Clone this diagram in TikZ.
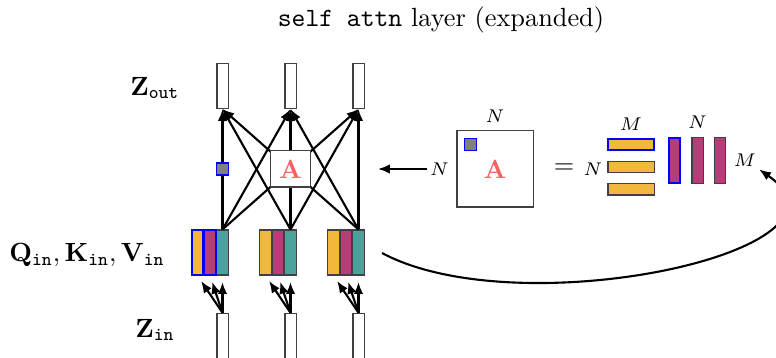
\documentclass[tikz,border=0pt]{standalone}
\usepackage{amsmath,amssymb}
\usepackage{xcolor}
\usetikzlibrary{arrows.meta,positioning,calc}
\definecolor{qorange}{HTML}{F0B83C}
\definecolor{kpurple}{HTML}{B83B7A}
\definecolor{vteal}{HTML}{4AA39A}
\definecolor{ared}{HTML}{F56262}

\begin{document}
\begin{tikzpicture}[x=0.38pt,y=-0.38pt,
  tok/.style={rectangle,draw=black!75,fill=white,inner sep=0pt,minimum width=4.2pt,minimum height=17.1pt},
  cell/.style={rectangle,draw=black!75,inner sep=0pt,minimum width=4.37pt,minimum height=17.1pt},
  sel/.style={draw=blue,thick},
  entry/.style={rectangle,fill=gray,draw=blue,semithick,inner sep=0pt,minimum size=4.6pt},
  arr/.style={thick,-{Latex[length=4.5pt,width=3.6pt]}},
  dim/.style={font=\scriptsize,inner sep=1pt},
  amat/.style={rectangle,draw=black!75,fill=white,inner sep=0pt,text=ared,font=\bfseries}]
\useasboundingbox (0,0) rectangle (776,358);
\node (title) at (441,20) {\texttt{self attn} layer (expanded)};
\node (zoutlab) at (155,88) {$\mathbf{Z}_{\mathtt{out}}$};
\node (qkvlab) at (87,255) {$\mathbf{Q}_{\mathtt{in}},\mathbf{K}_{\mathtt{in}},\mathbf{V}_{\mathtt{in}}$};
\node (zinlab) at (155,330) {$\mathbf{Z}_{\mathtt{in}}$};
% tokens and their q,k,v
\foreach \i/\cx in {1/222.5,2/290.5,3/358.5}{
  \node[tok] (zo\i) at (\cx,86) {};
  \node[tok,minimum height=18pt] (zi\i) at (\cx,337) {};
  \node[cell,fill=vteal] (v\i) at (\cx,252.5) {};
  \node[cell,fill=kpurple,left=0pt of v\i] (k\i) {};
  \node[cell,fill=qorange,left=0pt of k\i] (q\i) {};
  \foreach \t in {q,k,v}
    \draw[arr,shorten >=2.5pt] (zi\i.north) -- (\t\i.south);
}
\node[cell,fill=kpurple,sel] at (k1) {};
\node[cell,fill=qorange,sel] at (q1) {};
\foreach \i in {1,2,3}
  \foreach \j in {1,2,3}
    \draw[arr] (v\i.north) -- (zo\j.south);
\node[amat,minimum width=15.4pt,minimum height=13.7pt] (attn) at (290.5,169) {A};
\node[entry] (aentry) at (222.5,169) {};
% attention matrix
\node[amat,minimum size=28.9pt] (amatbig) at (495,169) {A};
\node[dim,above=2pt of amatbig] (ntop) {$N$};
\node[dim,left=1.7pt of amatbig] (nleft) {$N$};
\node[entry] (aentry2) at (470.5,144.5) {};
\coordinate (aptr) at (378,169);
\draw[arr] (nleft.west) -- (aptr);
\node (eq) at (564,169) {$=$};
\node[dim] (nrow) at (593,169) {$N$};
\foreach \r/\y in {1/144.5,2/167,3/189.5}
  \node[rectangle,draw=black!75,fill=qorange,inner sep=0pt,minimum width=17.5pt,minimum height=4.2pt] (qr\r) at (631,\y) {};
\node[rectangle,fill=qorange,sel,inner sep=0pt,minimum width=17.5pt,minimum height=4.2pt] at (qr1) {};
\node[dim,above=2pt of qr1] (mtop) {$M$};
\foreach \c/\x in {1/674.5,2/697.5,3/720}
  \node[rectangle,draw=black!75,fill=kpurple,inner sep=0pt,minimum width=4.2pt,minimum height=17.3pt] (kc\c) at (\x,160.5) {};
\node[rectangle,fill=kpurple,sel,inner sep=0pt,minimum width=4.2pt,minimum height=17.3pt] at (kc1) {};
\node[dim,above=2pt of kc2] (ntop2) {$N$};
\node[dim] (mright) at (745,160) {$M$};
\coordinate (loopst) at (382,253);
\draw[arr] (loopst) .. controls (520,327) and (875,250) .. (mright.south east);
\end{tikzpicture}
\end{document}
